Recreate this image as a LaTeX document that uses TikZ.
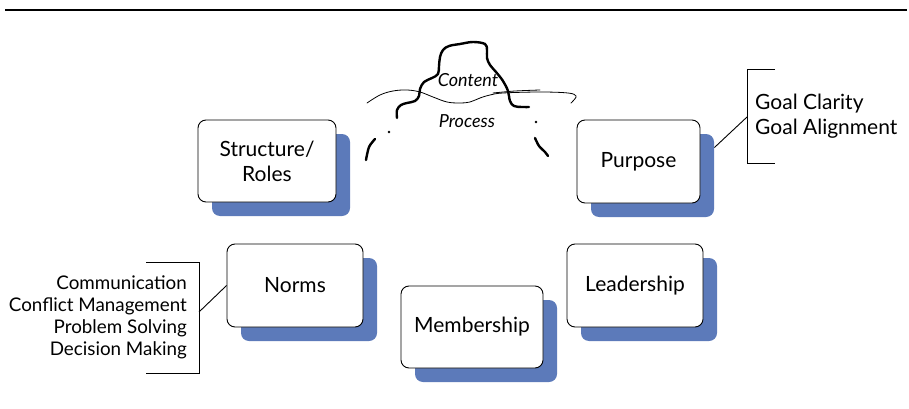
\documentclass[tikz,border=0pt]{standalone}
\usepackage{fontspec}
\setmainfont{Lato}
\usetikzlibrary{shadows}
\definecolor{shadowblue}{RGB}{92,122,186}
\tikzset{
  card/.style={draw=black, line width=0.9pt, fill=white, rounded corners=8pt,
    align=center, inner sep=0pt, font=\fontsize{21}{25}\selectfont,
    general shadow={fill=shadowblue, draw=none, shadow xshift=14pt, shadow yshift=-14pt}},
  wavy/.style={line width=2.4pt, line cap=round},
  thinwave/.style={line width=0.8pt, line cap=round},
  bracket/.style={line width=0.9pt},
  link/.style={line width=0.9pt},
  listtext/.style={inner sep=0pt, font=\fontsize{18.8}{22}\selectfont},
  cloudtext/.style={inner sep=0pt, font=\fontsize{18}{20}\selectfont\itshape},
}
\begin{document}
\begin{tikzpicture}[x=1pt, y=-1pt]
  \useasboundingbox (0,0) rectangle (909,409);

  % heading rule
  \draw[line width=1.6pt] (5,10) -- (907,10);

  % the five team dimensions
  \node[card, minimum width=138pt, minimum height=82pt] (struct) at (267,161) {Structure/\\Roles};
  \node[card, minimum width=123pt, minimum height=83pt] (purpose) at (638.5,161.5) {Purpose};
  \node[card, minimum width=136pt, minimum height=83pt] (norms) at (295,285.5) {Norms};
  \node[card, minimum width=142pt, minimum height=82pt] (member) at (472,327) {Membership};
  \node[card, minimum width=136pt, minimum height=83pt] (leader) at (635,285.5) {Leadership};

  % content / process cloud
  \draw[thinwave] plot[smooth, tension=0.6] coordinates {
    (367,103) (380,95) (393,91) (407,90) (420,92) (433,97) (447,102) (460,103)
    (470,102) (480,98) (490,95) (503,93) (540,92) (568,93) (576,96) (573,101) (571,103)};
  \draw[thinwave] plot[smooth] coordinates {(493,93) (515,91) (540,90)};
  \draw[wavy] plot[smooth, tension=0.6] coordinates {
    (397,118) (397,110) (401,105) (407,103) (415,101) (419,96) (420,89) (424,82)
    (432,78) (438,74) (439,66) (440,57) (443,50) (449,46) (460,44) (473,42)
    (485,44) (487,50) (487,58) (490,65) (496,72) (503,81) (508,91) (510,101)
    (514,106) (522,107) (529,107)};
  \node[cloudtext] (content) at (468,80) {Content};
  \node[cloudtext] (process) at (467,121) {Process};
  \fill (389,132) circle (1.4pt);
  \fill (536,122) circle (1.4pt);
  \draw[wavy] plot[smooth] coordinates {(375,139) (369,147) (366,160)};
  \draw[wavy] plot[smooth] coordinates {(535,138) (539,146) (545,152) (548,156)};

  % purpose details
  \coordinate (gb) at (747,117);
  \draw[bracket] (775,69) -- (747,69) -- (747,163) -- (775,163);
  \node[listtext, anchor=west, align=left, font=\fontsize{21}{25}\selectfont] (goals) at (755,116) {Goal Clarity\\Goal Alignment};
  \draw[link] ([shift={(14,-14)}]purpose.east) -- (gb);

  % norms details
  \coordinate (nb) at (199,312);
  \draw[bracket] (146,262) -- (199,262) -- (199,373) -- (146,373);
  \node[listtext, anchor=east, align=right] (normlist) at (187,317) {Communication\\Conflict Management\\Problem Solving\\Decision Making};
  \draw[link] (nb) -- (norms.west);
\end{tikzpicture}
\end{document}
